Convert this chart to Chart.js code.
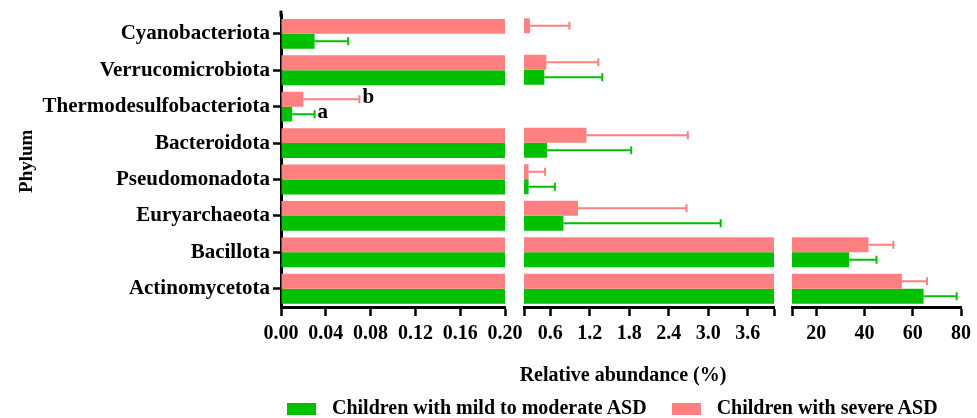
<!DOCTYPE html>
<html>
<head>
<meta charset="utf-8">
<script src="https://cdn.jsdelivr.net/npm/chart.js@4.4.1/dist/chart.umd.min.js"></script>
<style>
  html, body { margin: 0; padding: 0; background: #fff; }
  #wrap { position: relative; width: 977px; height: 418px; overflow: hidden;
          font-family: "Liberation Serif", "Times New Roman", serif; font-weight: bold; color: #000; }
  #wrap canvas { position: absolute; left: 0; top: 0; }
  #xtitle { position: absolute; left: 623px; top: 362px; transform: translateX(-50%);
            font-size: 20px; line-height: 24px; white-space: nowrap; }
  #legend { position: absolute; left: 287px; top: 397px; display: flex; align-items: center;
            font-size: 20px; line-height: 20px; white-space: nowrap; }
  .item { display: flex; align-items: center; margin-right: 25px; }
  .box { width: 29px; height: 12px; margin-right: 16px; margin-top: 3px; }
</style>
</head>
<body>
<div id="wrap">
  <canvas id="p1" width="977" height="418"></canvas>
  <canvas id="p2" width="977" height="418"></canvas>
  <canvas id="p3" width="977" height="418"></canvas>
  <div id="xtitle">Relative abundance (%)</div>
  <div id="legend"></div>
</div>
<script>
// Phyla, listed top to bottom
const phyla = ['Cyanobacteriota', 'Verrucomicrobiota', 'Thermodesulfobacteriota', 'Bacteroidota',
               'Pseudomonadota', 'Euryarchaeota', 'Bacillota', 'Actinomycetota'];

// Mean relative abundance (%) and SD per group
const mildMean   = [0.03, 0.51, 0.01, 0.55, 0.27, 0.80, 33.7, 64.5];
const mildSD     = [0.03, 0.88, 0.02, 1.28, 0.40, 2.39, 11.3, 13.7];
const severeMean = [0.29, 0.54, 0.02, 1.15, 0.27, 1.02, 41.7, 55.5];
const severeSD   = [0.60, 0.79, 0.05, 1.54, 0.25, 1.65, 10.3, 10.4];

// Significance letters
const mildLetters   = ['', '', 'a', '', '', '', '', ''];
const severeLetters = ['', '', 'b', '', '', '', '', ''];

const seriesNames  = ['Children with mild to moderate ASD', 'Children with severe ASD'];
const seriesColors = ['#00C000', '#FF8080'];

// Broken x axis: three segments
const panel1Ticks  = [0, 0.04, 0.08, 0.12, 0.16, 0.20];
const panel1Labels = ['0.00', '0.04', '0.08', '0.12', '0.16', '0.20'];
const panel2Ticks  = [0.2, 0.6, 1.2, 1.8, 2.4, 3.0, 3.6, 4.0];
const panel2Labels = ['', '0.6', '1.2', '1.8', '2.4', '3.0', '3.6', ''];
const panel3Ticks  = [10, 20, 40, 60, 80];
const panel3Labels = ['', '20', '40', '60', '80'];

const W = 977;
const FONT = '"Liberation Serif", "Times New Roman", serif';

const panels = [
  { id: 'p1', left: 281, right: 505, min: 0,   max: 0.2, ticks: panel1Ticks, labels: panel1Labels, showY: true },
  { id: 'p2', left: 524, right: 774, min: 0.2, max: 4.0, ticks: panel2Ticks, labels: panel2Labels, showY: false },
  { id: 'p3', left: 792, right: 962, min: 10,  max: 80,  ticks: panel3Ticks, labels: panel3Labels, showY: false }
];

// Error bars (mean to mean + SD) and letters, drawn only where the bar end falls in the segment
const errorBars = {
  id: 'errorBars',
  afterDatasetsDraw(chart) {
    const ctx = chart.ctx, xs = chart.scales.x, a = chart.chartArea;
    chart.data.datasets.forEach((ds, di) => {
      const meta = chart.getDatasetMeta(di);
      meta.data.forEach((bar, i) => {
        const v = ds.data[i], sd = ds.errors[i];
        if (v < xs.min || v > xs.max) return;
        const x0 = xs.getPixelForValue(v);
        const x1 = xs.getPixelForValue(v + sd);
        const y = bar.y;
        ctx.save();
        ctx.beginPath();
        ctx.rect(a.left, a.top, a.right - a.left, a.bottom - a.top);
        ctx.clip();
        ctx.strokeStyle = ds.backgroundColor;
        ctx.lineWidth = 2;
        ctx.beginPath();
        ctx.moveTo(x0, y); ctx.lineTo(x1, y);
        ctx.moveTo(x1, y - 4); ctx.lineTo(x1, y + 4);
        ctx.stroke();
        ctx.restore();
        const letter = ds.letters[i];
        if (letter && v + sd <= xs.max) {
          ctx.save();
          ctx.fillStyle = '#000';
          ctx.font = 'bold 21px ' + FONT;
          ctx.textAlign = 'left';
          ctx.textBaseline = 'alphabetic';
          ctx.fillText(letter, x1 + 3, y + 4);
          ctx.restore();
        }
      });
    });
  }
};

// Extends the y axis line a little above the first category
const axisCap = {
  id: 'axisCap',
  afterDraw(chart) {
    if (!chart.options.scales.y.display) return;
    const ctx = chart.ctx, a = chart.chartArea;
    ctx.save();
    ctx.strokeStyle = '#000';
    ctx.lineWidth = 3;
    ctx.beginPath();
    ctx.moveTo(a.left, a.top - 5);
    ctx.lineTo(a.left, a.top + 1);
    ctx.stroke();
    ctx.restore();
  }
};

panels.forEach(p => {
  new Chart(document.getElementById(p.id), {
    type: 'bar',
    data: {
      labels: phyla,
      datasets: [
        { label: seriesNames[1], data: severeMean, errors: severeSD, letters: severeLetters,
          backgroundColor: seriesColors[1] },
        { label: seriesNames[0], data: mildMean, errors: mildSD, letters: mildLetters,
          backgroundColor: seriesColors[0] }
      ]
    },
    options: {
      indexAxis: 'y',
      responsive: false,
      animation: false,
      layout: { padding: { left: p.showY ? 0 : p.left, right: W - p.right, top: 15, bottom: 0 } },
      datasets: { bar: { categoryPercentage: 0.82, barPercentage: 1, borderWidth: 0, clip: 0 } },
      plugins: { legend: { display: false }, tooltip: { enabled: false } },
      scales: {
        x: {
          type: 'linear',
          min: p.min,
          max: p.max,
          afterBuildTicks: s => { s.ticks = p.ticks.map(v => ({ value: v })); },
          afterFit: s => { s.height = 111; },
          ticks: {
            callback: (v, i) => p.labels[i],
            autoSkip: false, maxRotation: 0,
            color: '#000', padding: 6,
            font: { family: FONT, size: 20, weight: 'bold' }
          },
          grid: { drawOnChartArea: false, drawTicks: true, tickLength: 9, tickWidth: 2.5, tickColor: '#000' },
          border: { display: true, color: '#000', width: 3 }
        },
        y: {
          display: p.showY,
          afterFit: p.showY ? (s => { s.width = p.left; }) : undefined,
          ticks: { color: '#000', padding: 3, font: { family: FONT, size: 21, weight: 'bold' } },
          grid: { offset: false, drawOnChartArea: false, drawTicks: true, tickLength: 8, tickWidth: 2.5, tickColor: '#000' },
          border: { display: true, color: '#000', width: 3 },
          title: { display: true, text: 'Phylum', color: '#000', padding: { top: 16, bottom: 0 },
                   font: { family: FONT, size: 19, weight: 'bold' } }
        }
      }
    },
    plugins: [errorBars, axisCap]
  });
});

// Legend
const legend = document.getElementById('legend');
seriesNames.forEach((name, i) => {
  const item = document.createElement('div');
  item.className = 'item';
  const box = document.createElement('span');
  box.className = 'box';
  box.style.background = seriesColors[i];
  const txt = document.createElement('span');
  txt.textContent = name;
  item.appendChild(box);
  item.appendChild(txt);
  legend.appendChild(item);
});
</script>
</body>
</html>
